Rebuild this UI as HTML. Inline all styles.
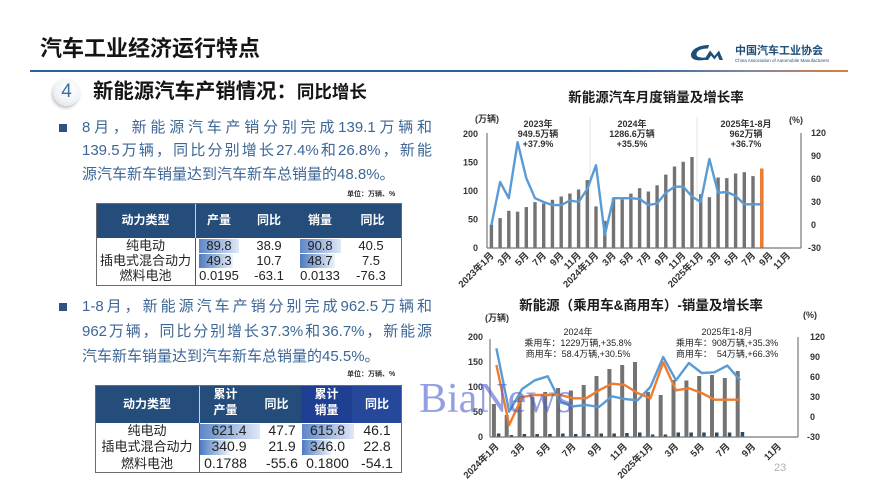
<!DOCTYPE html>
<html><head><meta charset="utf-8">
<style>
*{margin:0;padding:0;box-sizing:border-box}
html,body{width:876px;height:500px;overflow:hidden;background:#fff}
body{position:relative;font-family:"Liberation Sans","Noto Sans CJK SC",sans-serif}
.a{position:absolute;white-space:nowrap}
.t{position:absolute;left:82px;width:350px;font-size:15px;line-height:20px;color:#3d6797;white-space:nowrap}
.j{text-align:justify;text-align-last:justify}
.bul{position:absolute;left:59px;width:8px;height:8px;background:#2f527f}
.unit{position:absolute;left:347px;font-size:7px;line-height:10px;color:#333;font-weight:bold}
.tbl{position:absolute;border:1px solid #6b6b6b;background:#fff}
.hd{position:absolute;color:#fff;font-weight:bold;font-size:12px;text-align:center;line-height:14px}
.cell{position:absolute;font-size:13px;line-height:15px;color:#222;text-align:center}
.bar{position:absolute;background:linear-gradient(to right,#5f87c6,#dfe8f6)}
</style></head><body>

<!-- header -->
<div class="a" style="left:40px;top:36px;font-size:22px;line-height:26px;font-weight:bold;color:#151515">汽车工业经济运行特点</div>
<div class="a" style="left:30px;top:70px;width:818px;height:2px;background:linear-gradient(to right,#2e5f9e 0%,#2e5f9e 72%,#7d8aa0 88%,#e07b39 100%)"></div>

<svg class="a" style="left:0;top:0" width="876" height="80">
  <path d="M709,45 C698,45 691,50 691,55 C691,60 697,61 704,60 L706,57.5 C700,58 696.5,57 696.5,54.5 C696.5,50.5 701,48.5 708,48.5 Z" fill="#1f4e79"/>
  <path d="M704,60 L710,50.5 L714.5,56 L719,50.5 L723,60 L719.5,60 L717.5,55.5 L714.5,59.5 L711,55.5 L708,60 Z" fill="#1f4e79"/>
</svg>
<div class="a" style="left:735px;top:45px;font-size:11px;line-height:13px;font-weight:bold;color:#1f4e79">中国汽车工业协会</div>
<div class="a" style="left:735px;top:58px;font-size:4.5px;line-height:5px;color:#1f4e79">China Association of Automobile Manufacturers</div>

<!-- section heading -->
<div class="a" style="left:53px;top:79px;width:27px;height:27px;border-radius:50%;background:radial-gradient(circle at 60% 35%,#ffffff 0%,#f1f3f6 55%,#d3d8df 100%);box-shadow:-1px 2px 3px rgba(0,0,0,0.25)"></div>
<div class="a" style="left:53px;top:81px;width:27px;text-align:center;font-size:19px;line-height:22px;color:#3b6ea5">4</div>
<div class="a" style="left:93px;top:80px;font-size:20.4px;line-height:24px;font-weight:bold;color:#151515">新能源汽车产销情况：<span style="font-size:17.5px">同比增长</span></div>

<!-- bullet 1 -->
<div class="bul" style="top:124px"></div>
<div class="t j" style="top:118px">8月，新能源汽车产销分别完成139.1万辆和</div>
<div class="t j" style="top:141px">139.5万辆，同比分别增长27.4%和26.8%，新能</div>
<div class="t" style="top:165px">源汽车新车销量达到汽车新车总销量的48.8%。</div>
<div class="unit" style="top:190px">单位：万辆、%</div>

<!-- table 1 -->
<div class="tbl" style="left:96px;top:203px;width:306px;height:83px">
  <div class="a" style="left:0;top:0;width:304px;height:34px;background:#244d7b"></div>
  <div class="a" style="left:98px;top:0;width:1px;height:34px;background:#c9d3e0"></div>
  <div class="a" style="left:98px;top:34px;width:1px;height:47px;background:#555"></div>
</div>
<div class="hd" style="left:96px;top:213px;width:99px">动力类型</div>
<div class="hd" style="left:195px;top:213px;width:48px">产量</div>
<div class="hd" style="left:243px;top:213px;width:52px">同比</div>
<div class="hd" style="left:295px;top:213px;width:50px">销量</div>
<div class="hd" style="left:345px;top:213px;width:55px">同比</div>
<div class="bar" style="left:199px;top:239px;width:40px;height:14px"></div>
<div class="bar" style="left:199px;top:254px;width:34px;height:14px;background:linear-gradient(to right,#4e7bc0,#eef3fa)"></div>
<div class="bar" style="left:300px;top:239px;width:41px;height:14px"></div>
<div class="bar" style="left:300px;top:254px;width:35px;height:14px;background:linear-gradient(to right,#4e7bc0,#eef3fa)"></div>
<div class="cell" style="left:96px;top:238px;width:99px">纯电动</div>
<div class="cell" style="left:96px;top:253px;width:99px">插电式混合动力</div>
<div class="cell" style="left:96px;top:268px;width:99px">燃料电池</div>
<div class="cell" style="left:195px;top:238px;width:48px">89.8</div>
<div class="cell" style="left:195px;top:253px;width:48px">49.3</div>
<div class="cell" style="left:195px;top:268px;width:48px">0.0195</div>
<div class="cell" style="left:243px;top:238px;width:52px">38.9</div>
<div class="cell" style="left:243px;top:253px;width:52px">10.7</div>
<div class="cell" style="left:243px;top:268px;width:52px">-63.1</div>
<div class="cell" style="left:295px;top:238px;width:50px">90.8</div>
<div class="cell" style="left:295px;top:253px;width:50px">48.7</div>
<div class="cell" style="left:295px;top:268px;width:50px">0.0133</div>
<div class="cell" style="left:345px;top:238px;width:52px">40.5</div>
<div class="cell" style="left:345px;top:253px;width:52px">7.5</div>
<div class="cell" style="left:345px;top:268px;width:52px">-76.3</div>

<!-- bullet 2 -->
<div class="bul" style="top:303px"></div>
<div class="t j" style="top:297px">1-8月，新能源汽车产销分别完成962.5万辆和</div>
<div class="t j" style="top:322px">962万辆，同比分别增长37.3%和36.7%，新能源</div>
<div class="t" style="top:347px">汽车新车销量达到汽车新车总销量的45.5%。</div>
<div class="unit" style="top:370px">单位：万辆、%</div>

<!-- table 2 -->
<div class="tbl" style="left:95px;top:385px;width:307px;height:88px">
  <div class="a" style="left:0;top:0;width:305px;height:37px;background:#244d7b"></div>
  <div class="a" style="left:205px;top:0;width:51px;height:37px;background:#1f3f92"></div>
  <div class="a" style="left:256px;top:0;width:49px;height:37px;background:#26489a"></div>
  <div class="a" style="left:103px;top:0;width:1px;height:37px;background:#c9d3e0"></div>
  <div class="a" style="left:103px;top:37px;width:1px;height:49px;background:#555"></div>
</div>
<div class="hd" style="left:95px;top:397px;width:104px">动力类型</div>
<div class="hd" style="left:199px;top:387px;width:53px">累计<br><span style="line-height:19px">产量</span></div>
<div class="hd" style="left:252px;top:397px;width:49px">同比</div>
<div class="hd" style="left:301px;top:387px;width:51px">累计<br><span style="line-height:19px">销量</span></div>
<div class="hd" style="left:352px;top:397px;width:50px">同比</div>
<div class="bar" style="left:200px;top:424px;width:60px;height:15px"></div>
<div class="bar" style="left:200px;top:440px;width:30px;height:15px;background:linear-gradient(to right,#4e7bc0,#eef3fa)"></div>
<div class="bar" style="left:302px;top:424px;width:52px;height:15px"></div>
<div class="bar" style="left:302px;top:440px;width:29px;height:15px;background:linear-gradient(to right,#4e7bc0,#eef3fa)"></div>
<div class="cell" style="left:95px;top:423px;width:104px;font-size:13px">纯电动</div>
<div class="cell" style="left:95px;top:439px;width:104px;font-size:13px">插电式混合动力</div>
<div class="cell" style="left:95px;top:456px;width:104px;font-size:13px">燃料电池</div>
<div class="cell" style="left:199px;top:423px;width:60px;font-size:14px">621.4</div>
<div class="cell" style="left:199px;top:439px;width:60px;font-size:14px">340.9</div>
<div class="cell" style="left:199px;top:456px;width:53px;font-size:14px">0.1788</div>
<div class="cell" style="left:256px;top:423px;width:52px;font-size:14px">47.7</div>
<div class="cell" style="left:256px;top:439px;width:52px;font-size:14px">21.9</div>
<div class="cell" style="left:256px;top:456px;width:52px;font-size:14px">-55.6</div>
<div class="cell" style="left:301px;top:423px;width:53px;font-size:14px">615.8</div>
<div class="cell" style="left:301px;top:439px;width:53px;font-size:14px">346.0</div>
<div class="cell" style="left:301px;top:456px;width:53px;font-size:14px">0.1800</div>
<div class="cell" style="left:352px;top:423px;width:50px;font-size:14px">46.1</div>
<div class="cell" style="left:352px;top:439px;width:50px;font-size:14px">22.8</div>
<div class="cell" style="left:352px;top:456px;width:50px;font-size:14px">-54.1</div>

<!-- charts -->
<svg class="a" style="left:0;top:0" width="876" height="500" font-family="Liberation Sans, Noto Sans CJK SC, sans-serif">
  <!-- chart 1 -->
  <text x="656" y="102" text-anchor="middle" font-size="13.5" font-weight="bold" fill="#1a1a1a">新能源汽车月度销量及增长率</text>
  <line x1="590" y1="117" x2="590" y2="248" stroke="#e4e4e4" stroke-width="1"/>
  <line x1="697" y1="117" x2="697" y2="248" stroke="#e4e4e4" stroke-width="1"/>
  <g font-size="9" font-weight="bold" fill="#333" text-anchor="middle">
    <text x="487" y="122">(万辆)</text>
    <text x="796" y="123">(%)</text>
    <text x="538" y="127">2023年</text><text x="538" y="137">949.5万辆</text><text x="538" y="147">+37.9%</text>
    <text x="632" y="127">2024年</text><text x="632" y="137">1286.6万辆</text><text x="632" y="147">+35.5%</text>
    <text x="746" y="127">2025年1-8月</text><text x="746" y="137">962万辆</text><text x="746" y="147">+36.7%</text>
  </g>
  <g font-size="9" font-weight="bold" fill="#333" text-anchor="end">
    <text x="478" y="137">200</text><text x="478" y="165.5">150</text><text x="478" y="194">100</text><text x="478" y="222.5">50</text><text x="478" y="251">0</text>
  </g>
  <g font-size="9" font-weight="bold" fill="#333">
    <text x="811" y="136">120</text><text x="811" y="159">90</text><text x="811" y="182">60</text><text x="811" y="205">30</text><text x="811" y="228">0</text><text x="808" y="251">-30</text>
  </g>
  <g fill="#737373">
    <rect x="489.7" y="224.7" width="3.4" height="23.3"/><rect x="498.4" y="218.1" width="3.4" height="29.9"/>
    <rect x="507.1" y="210.8" width="3.4" height="37.2"/><rect x="515.9" y="211.7" width="3.4" height="36.3"/>
    <rect x="524.6" y="207.1" width="3.4" height="40.9"/><rect x="533.3" y="202.1" width="3.4" height="45.9"/>
    <rect x="542.0" y="203.5" width="3.4" height="44.5"/><rect x="550.7" y="199.8" width="3.4" height="48.2"/>
    <rect x="559.5" y="196.5" width="3.4" height="51.5"/><rect x="568.2" y="193.5" width="3.4" height="54.5"/>
    <rect x="576.9" y="189.5" width="3.4" height="58.5"/><rect x="585.6" y="180.1" width="3.4" height="67.9"/>
    <rect x="594.3" y="206.4" width="3.4" height="41.6"/><rect x="603.1" y="220.8" width="3.4" height="27.2"/>
    <rect x="611.8" y="197.7" width="3.4" height="50.3"/><rect x="620.5" y="199.5" width="3.4" height="48.5"/>
    <rect x="629.2" y="193.6" width="3.4" height="54.4"/><rect x="637.9" y="188.2" width="3.4" height="59.8"/>
    <rect x="646.7" y="191.5" width="3.4" height="56.5"/><rect x="655.4" y="185.3" width="3.4" height="62.7"/>
    <rect x="664.1" y="174.6" width="3.4" height="73.4"/><rect x="672.8" y="166.5" width="3.4" height="81.5"/>
    <rect x="681.5" y="161.8" width="3.4" height="86.2"/><rect x="690.3" y="157.0" width="3.4" height="91.0"/>
    <rect x="699.0" y="194.2" width="3.4" height="53.8"/><rect x="707.7" y="197.2" width="3.4" height="50.8"/>
    <rect x="716.4" y="177.5" width="3.4" height="70.5"/><rect x="725.1" y="178.1" width="3.4" height="69.9"/>
    <rect x="733.9" y="173.5" width="3.4" height="74.5"/><rect x="742.6" y="172.2" width="3.4" height="75.8"/>
    <rect x="751.3" y="176.1" width="3.4" height="71.9"/>
  </g>
  <rect x="760.0" y="168.5" width="3.6" height="79.5" fill="#ed7d31"/>
  <polyline fill="none" stroke="#5b9bd5" stroke-width="2.4" stroke-linejoin="round" points="491.4,225 500.1,182 508.8,198.2 517.6,142.2 526.3,178.2 535,198.2 543.7,202 552.4,205.1 561.2,205.1 569.9,200.5 578.6,202 587.3,189 596,165.2 604.8,235 613.5,198.2 622.2,198.2 630.9,198.2 639.6,198.9 648.4,205.1 657.1,203.5 665.8,192.8 674.5,186.7 683.2,186.7 692,196.6 700.7,202 709.4,159 718.1,192.8 726.8,192 735.6,195.9 744.3,204.3 753,204.3 761.7,204.3"/>
  <g stroke="#777" stroke-width="1.2">
    <line x1="487" y1="133" x2="487" y2="248"/>
    <line x1="801" y1="133" x2="801" y2="248"/>
    <line x1="487" y1="248" x2="801" y2="248"/>
  </g>
  <g font-size="9.5" font-weight="bold" fill="#333" text-anchor="end">
    <text transform="translate(494.4,256) rotate(-45)">2023年1月</text>
    <text transform="translate(511.8,256) rotate(-45)">3月</text>
    <text transform="translate(529.3,256) rotate(-45)">5月</text>
    <text transform="translate(546.7,256) rotate(-45)">7月</text>
    <text transform="translate(564.2,256) rotate(-45)">9月</text>
    <text transform="translate(581.6,256) rotate(-45)">11月</text>
    <text transform="translate(599,256) rotate(-45)">2024年1月</text>
    <text transform="translate(616.5,256) rotate(-45)">3月</text>
    <text transform="translate(633.9,256) rotate(-45)">5月</text>
    <text transform="translate(651.4,256) rotate(-45)">7月</text>
    <text transform="translate(668.8,256) rotate(-45)">9月</text>
    <text transform="translate(686.2,256) rotate(-45)">11月</text>
    <text transform="translate(703.7,256) rotate(-45)">2025年1月</text>
    <text transform="translate(721.1,256) rotate(-45)">3月</text>
    <text transform="translate(738.6,256) rotate(-45)">5月</text>
    <text transform="translate(756,256) rotate(-45)">7月</text>
    <text transform="translate(773.4,256) rotate(-45)">9月</text>
    <text transform="translate(790.9,256) rotate(-45)">11月</text>
  </g>

  <!-- chart 2 -->
  <text x="641" y="310" text-anchor="middle" font-size="13.5" font-weight="bold" fill="#1a1a1a">新能源（乘用车&amp;商用车）-销量及增长率</text>
  <g font-size="9" font-weight="bold" fill="#333" text-anchor="middle">
    <text x="497" y="321">(万辆)</text>
    <text x="810" y="318">(%)</text>
  </g>
  <g font-size="9" fill="#222" text-anchor="middle">
    <text x="578" y="335">2024年</text>
    <text x="578" y="346">乘用车：1229万辆,+35.8%</text>
    <text x="578" y="357">商用车：58.4万辆,+30.5%</text>
    <text x="727" y="335">2025年1-8月</text>
    <text x="727" y="346">乘用车：908万辆,+35.3%</text>
    <text x="727" y="357" xml:space="preserve">商用车：  54万辆,+66.3%</text>
  </g>
  <g font-size="9" font-weight="bold" fill="#333" text-anchor="end">
    <text x="483" y="340">200</text><text x="483" y="365">150</text><text x="483" y="390">100</text><text x="483" y="415">50</text><text x="483" y="440">0</text>
  </g>
  <g font-size="9" font-weight="bold" fill="#333">
    <text x="810" y="340">120</text><text x="810" y="360">90</text><text x="810" y="380">60</text><text x="810" y="400">30</text><text x="810" y="420">0</text><text x="807" y="440">-30</text>
  </g>
  <g fill="#737373">
    <rect x="491.9" y="404" width="4" height="33"/><rect x="504.7" y="415" width="4" height="22"/>
    <rect x="517.6" y="395.5" width="4" height="41.5"/><rect x="530.4" y="397" width="4" height="40"/>
    <rect x="543.2" y="392" width="4" height="45"/><rect x="556.1" y="388" width="4" height="49"/>
    <rect x="568.9" y="390.5" width="4" height="46.5"/><rect x="581.7" y="385" width="4" height="52"/>
    <rect x="594.5" y="376" width="4" height="61"/><rect x="607.4" y="369" width="4" height="68"/>
    <rect x="620.2" y="365" width="4" height="72"/><rect x="633" y="362" width="4" height="75"/>
    <rect x="645.9" y="392" width="4" height="45"/><rect x="658.7" y="395" width="4" height="42"/>
    <rect x="671.5" y="380" width="4" height="57"/><rect x="684.4" y="380.5" width="4" height="56.5"/>
    <rect x="697.2" y="376" width="4" height="61"/><rect x="710" y="375" width="4" height="62"/>
    <rect x="722.8" y="378" width="4" height="59"/><rect x="735.7" y="371" width="4" height="66"/>
  </g>
  <g fill="#2d4a5e">
    <rect x="496.9" y="433.5" width="3.5" height="3.5"/><rect x="509.7" y="435" width="3.5" height="2"/>
    <rect x="522.6" y="434" width="3.5" height="3"/><rect x="535.4" y="434" width="3.5" height="3"/>
    <rect x="548.2" y="434" width="3.5" height="3"/><rect x="561.1" y="433.5" width="3.5" height="3.5"/>
    <rect x="573.9" y="434" width="3.5" height="3"/><rect x="586.7" y="434" width="3.5" height="3"/>
    <rect x="599.5" y="433.5" width="3.5" height="3.5"/><rect x="612.4" y="433.5" width="3.5" height="3.5"/>
    <rect x="625.2" y="433" width="3.5" height="4"/><rect x="638" y="432.5" width="3.5" height="4.5"/>
    <rect x="650.9" y="434.5" width="3.5" height="2.5"/><rect x="663.7" y="434.5" width="3.5" height="2.5"/>
    <rect x="676.5" y="432.5" width="3.5" height="4.5"/><rect x="689.4" y="432.5" width="3.5" height="4.5"/>
    <rect x="702.2" y="432.5" width="3.5" height="4.5"/><rect x="715" y="432.5" width="3.5" height="4.5"/>
    <rect x="727.8" y="432.5" width="3.5" height="4.5"/><rect x="740.7" y="432" width="3.5" height="5"/>
  </g>
  <polyline fill="none" stroke="#5b9bd5" stroke-width="2.4" stroke-linejoin="round" points="496.4,348.3 509.2,411.7 522.1,389 534.9,380.3 547.7,376.3 560.6,402.3 573.4,406.3 586.2,405 599,407 611.9,396.3 624.7,399 637.5,400.3 650.4,387 663.2,357 676,380.3 688.9,363 701.7,373 714.5,372.3 727.3,365.6 740.2,380.3"/>
  <polyline fill="none" stroke="#ed7d31" stroke-width="2.4" stroke-linejoin="round" points="496.4,365 509.2,425 522.1,397 534.9,395 547.7,395 560.6,395 573.4,398.3 586.2,398.3 599,390.3 611.9,383.7 624.7,385 637.5,393 650.4,398.3 663.2,362.3 676,390.3 688.9,388.3 701.7,393 714.5,399.7 727.3,399.7 740.2,399.7"/>
  <g stroke="#777" stroke-width="1.2">
    <line x1="490" y1="339" x2="490" y2="437"/>
    <line x1="798" y1="337" x2="798" y2="437"/>
    <line x1="490" y1="437" x2="798" y2="437"/>
  </g>
  <g font-size="9.5" font-weight="bold" fill="#333" text-anchor="end">
    <text transform="translate(499.4,447) rotate(-45)">2024年1月</text>
    <text transform="translate(525.1,447) rotate(-45)">3月</text>
    <text transform="translate(550.7,447) rotate(-45)">5月</text>
    <text transform="translate(576.4,447) rotate(-45)">7月</text>
    <text transform="translate(602,447) rotate(-45)">9月</text>
    <text transform="translate(627.7,447) rotate(-45)">11月</text>
    <text transform="translate(653.4,447) rotate(-45)">2025年1月</text>
    <text transform="translate(679,447) rotate(-45)">3月</text>
    <text transform="translate(704.7,447) rotate(-45)">5月</text>
    <text transform="translate(730.3,447) rotate(-45)">7月</text>
    <text transform="translate(756,447) rotate(-45)">9月</text>
    <text transform="translate(781.7,447) rotate(-45)">11月</text>
  </g>
  <text x="774" y="471" font-size="11" fill="#b0b0b0">23</text>
</svg>

<!-- watermark -->
<div class="a" style="left:419px;top:378px;font-family:'Liberation Serif',serif;font-size:42px;line-height:42px;color:rgba(75,95,205,0.6)">BiaNews</div>
</body></html>
